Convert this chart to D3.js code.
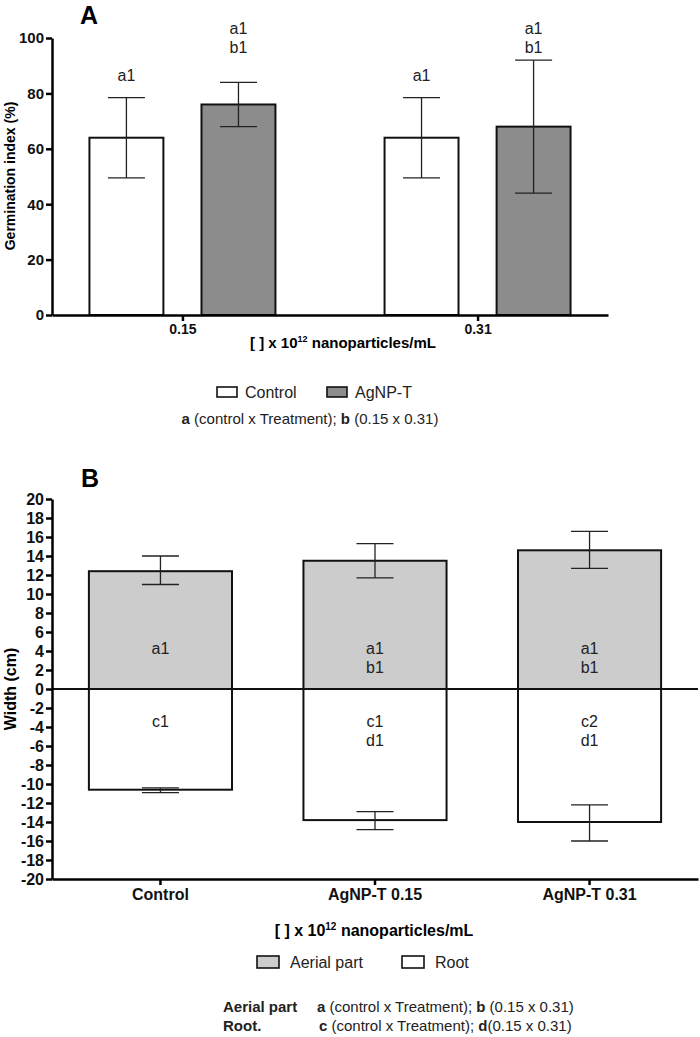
<!DOCTYPE html>
<html><head><meta charset="utf-8">
<script src="https://cdn.jsdelivr.net/npm/d3@7"></script>
<style>
body{margin:0;background:#fff;}
svg{font-family:"Liberation Sans",Arial,Helvetica,sans-serif;}
</style></head>
<body>
<svg id="c" width="700" height="1037"></svg>
<script>
// ---------- Data: panel A ----------
const concA = ["0.15", "0.31"];
const seriesA = ["Control", "AgNP-T"];
const meanA = { "Control": [64, 64], "AgNP-T": [76, 68] };
const errHiA = { "Control": [78.5, 78.5], "AgNP-T": [84, 92] };
const errLoA = { "Control": [49.5, 49.5], "AgNP-T": [68, 44] };
const lettersA = { "Control": [["a1"], ["a1"]], "AgNP-T": [["a1","b1"], ["a1","b1"]] };
const ticksA = [0, 20, 40, 60, 80, 100];

// ---------- Data: panel B ----------
const catsB = ["Control", "AgNP-T 0.15", "AgNP-T 0.31"];
const aerial = [12.4, 13.5, 14.6];
const aerialHi = [14.0, 15.3, 16.6];
const aerialLo = [11.0, 11.7, 12.7];
const root = [-10.6, -13.8, -14.0];
const rootHi = [-10.4, -12.9, -12.2];
const rootLo = [-10.9, -14.8, -16.0];
const lettersAerial = [["a1"], ["a1","b1"], ["a1","b1"]];
const lettersRoot = [["c1"], ["c1","d1"], ["c2","d1"]];
const ticksB = d3.range(-20, 21, 2);

const svg = d3.select("#c");
const capW = 37;
const fmt = d => String(d);

// ================= Panel A =================
const yA = d3.scaleLinear().domain([0, 100]).range([315, 38]);
const x0A = d3.scalePoint().domain(concA).range([52, 608]).padding(0.442);
const x1A = d3.scaleBand().domain(seriesA).range([-93, 93]).paddingInner(0.34);
const fillA = { "Control": "#ffffff", "AgNP-T": "#8c8c8c" };

const gA = svg.append("g");
seriesA.forEach(s => {
  concA.forEach((c, i) => {
    const cx = x0A(c) + x1A(s) + x1A.bandwidth() / 2;
    gA.append("rect")
      .attr("x", x0A(c) + x1A(s)).attr("width", x1A.bandwidth())
      .attr("y", yA(meanA[s][i])).attr("height", yA(0) - yA(meanA[s][i]))
      .attr("fill", fillA[s]).attr("stroke", "#111").attr("stroke-width", 2);
    const eg = gA.append("g").attr("stroke", "#222").attr("stroke-width", 1.3);
    eg.append("line").attr("x1", cx).attr("x2", cx).attr("y1", yA(errHiA[s][i])).attr("y2", yA(errLoA[s][i]));
    eg.append("line").attr("x1", cx - capW/2).attr("x2", cx + capW/2).attr("y1", yA(errHiA[s][i])).attr("y2", yA(errHiA[s][i]));
    eg.append("line").attr("x1", cx - capW/2).attr("x2", cx + capW/2).attr("y1", yA(errLoA[s][i])).attr("y2", yA(errLoA[s][i]));
    const L = lettersA[s][i];
    const base = L.length === 1 ? 81 : 34;
    L.forEach((t, k) => {
      gA.append("text").attr("x", cx).attr("y", base + k * 19)
        .attr("text-anchor", "middle").attr("font-size", 16).attr("fill", "#222").text(t);
    });
  });
});

// axes A
const yAxisA = gA.append("g").attr("transform", "translate(52,0)")
  .call(d3.axisLeft(yA).tickValues(ticksA).tickFormat(fmt).tickSize(6).tickSizeOuter(0).tickPadding(2));
yAxisA.select(".domain").attr("stroke-width", 2.5);
yAxisA.selectAll(".tick line").attr("stroke-width", 2.5);
yAxisA.selectAll("text").attr("font-size", 15).attr("font-weight", "bold").attr("fill", "#111");

const xAxisA = gA.append("g").attr("transform", "translate(0,315)")
  .call(d3.axisBottom(x0A).tickSize(6).tickSizeOuter(0).tickPadding(3));
xAxisA.select(".domain").attr("stroke-width", 2.5);
xAxisA.selectAll(".tick line").attr("stroke-width", 2.5);
xAxisA.selectAll("text").attr("font-size", 14).attr("font-weight", "bold").attr("fill", "#111");

gA.append("text").attr("x", 80).attr("y", 24).attr("font-size", 25).attr("font-weight", "bold").text("A");
gA.append("text").attr("transform", "translate(15,176) rotate(-90)").attr("text-anchor", "middle")
  .attr("font-size", 14).attr("font-weight", "bold").text("Germination index (%)");
const tA = gA.append("text").attr("x", 343).attr("y", 348).attr("text-anchor", "middle")
  .attr("font-size", 15).attr("font-weight", "bold");
tA.append("tspan").text("[  ] x 10");
tA.append("tspan").attr("font-size", 9).attr("dy", -6).text("12");
tA.append("tspan").attr("dy", 6).text(" nanoparticles/mL");

// legend A
const legA = gA.append("g");
[[217, "Control"], [327, "AgNP-T"]].forEach(([lx, s]) => {
  legA.append("rect").attr("x", lx).attr("y", 387).attr("width", 20).attr("height", 10)
    .attr("fill", fillA[s]).attr("stroke", "#111").attr("stroke-width", 1.6);
  legA.append("text").attr("x", lx + 28).attr("y", 398).attr("font-size", 16).attr("fill", "#222").text(s);
});
const fA = gA.append("text").attr("x", 310).attr("y", 424).attr("text-anchor", "middle").attr("font-size", 15).attr("fill", "#222");
fA.append("tspan").attr("font-weight", "bold").text("a");
fA.append("tspan").text(" (control x Treatment); ");
fA.append("tspan").attr("font-weight", "bold").text("b");
fA.append("tspan").text(" (0.15 x 0.31)");

// ================= Panel B =================
const yB = d3.scaleLinear().domain([-20, 20]).range([879, 499]);
const xB = d3.scaleBand().domain(catsB).range([52, 698]).paddingInner(0.333).paddingOuter(0.172);
const gB = svg.append("g");

catsB.forEach((c, i) => {
  const cx = xB(c) + xB.bandwidth() / 2;
  gB.append("rect").attr("x", xB(c)).attr("width", xB.bandwidth())
    .attr("y", yB(aerial[i])).attr("height", yB(0) - yB(aerial[i]))
    .attr("fill", "#cccccc").attr("stroke", "#111").attr("stroke-width", 2);
  gB.append("rect").attr("x", xB(c)).attr("width", xB.bandwidth())
    .attr("y", yB(0)).attr("height", yB(root[i]) - yB(0))
    .attr("fill", "#ffffff").attr("stroke", "#111").attr("stroke-width", 2);
  [[aerialHi[i], aerialLo[i]], [rootHi[i], rootLo[i]]].forEach(([hi, lo]) => {
    const eg = gB.append("g").attr("stroke", "#222").attr("stroke-width", 1.3);
    eg.append("line").attr("x1", cx).attr("x2", cx).attr("y1", yB(hi)).attr("y2", yB(lo));
    eg.append("line").attr("x1", cx - capW/2).attr("x2", cx + capW/2).attr("y1", yB(hi)).attr("y2", yB(hi));
    eg.append("line").attr("x1", cx - capW/2).attr("x2", cx + capW/2).attr("y1", yB(lo)).attr("y2", yB(lo));
  });
  lettersAerial[i].forEach((t, k) => {
    gB.append("text").attr("x", cx).attr("y", 654 + k * 19).attr("text-anchor", "middle")
      .attr("font-size", 16).attr("fill", "#222").text(t);
  });
  lettersRoot[i].forEach((t, k) => {
    gB.append("text").attr("x", cx).attr("y", 727 + k * 19).attr("text-anchor", "middle")
      .attr("font-size", 16).attr("fill", "#222").text(t);
  });
});

// zero line
gB.append("line").attr("x1", 52).attr("x2", 698).attr("y1", yB(0)).attr("y2", yB(0))
  .attr("stroke", "#111").attr("stroke-width", 2);

const yAxisB = gB.append("g").attr("transform", "translate(52,0)")
  .call(d3.axisLeft(yB).tickValues(ticksB).tickFormat(fmt).tickSize(6).tickSizeOuter(0).tickPadding(2));
yAxisB.select(".domain").attr("stroke-width", 2.5);
yAxisB.selectAll(".tick line").attr("stroke-width", 2.5);
yAxisB.selectAll("text").attr("font-size", 16).attr("font-weight", "bold").attr("fill", "#111");

const xAxisB = gB.append("g").attr("transform", "translate(0,879)")
  .call(d3.axisBottom(xB).tickSize(6).tickSizeOuter(0).tickPadding(4));
xAxisB.select(".domain").attr("stroke-width", 2.5);
xAxisB.selectAll(".tick line").attr("stroke-width", 2.5);
xAxisB.selectAll("text").attr("font-size", 16).attr("font-weight", "bold").attr("fill", "#111");

gB.append("text").attr("x", 81).attr("y", 487).attr("font-size", 25).attr("font-weight", "bold").text("B");
gB.append("text").attr("transform", "translate(16,689) rotate(-90)").attr("text-anchor", "middle")
  .attr("font-size", 16).attr("font-weight", "bold").text("Width (cm)");
const tB = gB.append("text").attr("x", 374).attr("y", 936).attr("text-anchor", "middle")
  .attr("font-size", 16).attr("font-weight", "bold");
tB.append("tspan").text("[  ] x 10");
tB.append("tspan").attr("font-size", 10).attr("dy", -6).text("12");
tB.append("tspan").attr("dy", 6).text(" nanoparticles/mL");

const legB = gB.append("g");
[[257, "Aerial part", "#cccccc"], [402, "Root", "#ffffff"]].forEach(([lx, s, f]) => {
  legB.append("rect").attr("x", lx).attr("y", 956).attr("width", 22).attr("height", 12)
    .attr("fill", f).attr("stroke", "#111").attr("stroke-width", 1.6);
  legB.append("text").attr("x", lx + 33).attr("y", 968).attr("font-size", 16).attr("fill", "#222").text(s);
});

const f1 = gB.append("text").attr("y", 1012).attr("font-size", 15).attr("fill", "#222");
f1.append("tspan").attr("x", 223).attr("font-weight", "bold").text("Aerial part");
f1.append("tspan").attr("x", 317).attr("font-weight", "bold").text("a");
f1.append("tspan").text(" (control x Treatment); ");
f1.append("tspan").attr("font-weight", "bold").text("b");
f1.append("tspan").text(" (0.15 x 0.31)");
const f2 = gB.append("text").attr("y", 1031).attr("font-size", 15).attr("fill", "#222");
f2.append("tspan").attr("x", 223).attr("font-weight", "bold").text("Root.");
f2.append("tspan").attr("x", 319).attr("font-weight", "bold").text("c");
f2.append("tspan").text(" (control x Treatment); ");
f2.append("tspan").attr("font-weight", "bold").text("d");
f2.append("tspan").text("(0.15 x 0.31)");
</script>
</body></html>
